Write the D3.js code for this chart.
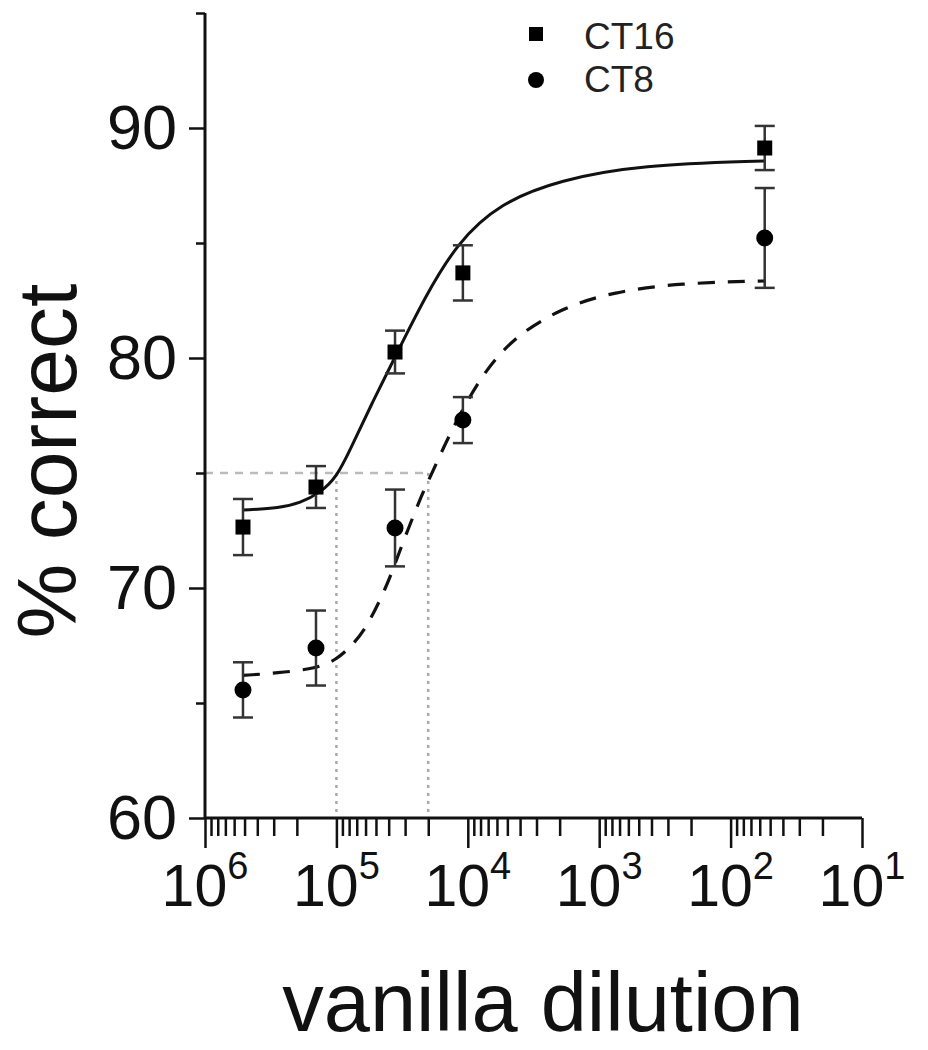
<!DOCTYPE html>
<html>
<head>
<meta charset="utf-8">
<script src="https://cdn.jsdelivr.net/npm/d3@7"></script>
<style>
  html, body { margin: 0; padding: 0; background: #fff; }
  svg { display: block; }
  text { font-family: "Liberation Sans", Arial, sans-serif; }
</style>
</head>
<body>
<svg id="chart" width="928" height="1050"></svg>
<script>
// ---------------- data ----------------
const dilutions   = [514000, 143000, 35800, 10900, 55];
const ct16Values  = [72.65, 74.39, 80.26, 83.70, 89.13];
const ct16Errors  = [1.22, 0.91, 0.93, 1.20, 0.96];
const ct8Values   = [65.57, 67.39, 72.61, 77.30, 85.22];
const ct8Errors   = [1.20, 1.63, 1.67, 1.00, 2.17];

// fitted curves as drawn
const ct16FitX = [514000, 268500, 189000, 133000, 98900, 78800, 53600, 35800, 21200, 12100, 5690, 1990, 489, 53.8];
const ct16FitY = [73.39, 73.48, 73.70, 74.13, 74.85, 76.0, 78.04, 80.04, 82.65, 85.0, 86.74, 87.74, 88.39, 88.57];
const ct8FitX  = [514000, 283000, 140600, 98900, 76000, 58500, 41200, 34600, 23100, 18700, 13650, 8070, 4530, 1890, 786, 243, 53.8];
const ct8FitY  = [66.2, 66.3, 66.5, 66.9, 67.5, 68.3, 70.1, 71.3, 73.9, 75.0, 76.74, 79.17, 80.9, 82.2, 82.87, 83.26, 83.35];

const threshold   = 75;
const thresholdX  = [100000, 20000];

const xTickExps   = [6, 5, 4, 3, 2, 1];
const yTicksMajor = [60, 70, 80, 90];
const yTicksMinor = [65, 75, 85, 95];
const legendNames = ["CT16", "CT8"];

// ---------------- scales ----------------
const svg = d3.select("#chart");
const x = d3.scaleLog().domain([1e6, 10]).range([205, 862]);
const y = d3.scaleLinear().domain([60, 95]).range([818, 13]);
const font = '"Liberation Sans", Arial, sans-serif';

// ---------------- reference lines ----------------
svg.append("line")
  .attr("x1", x(1e6)).attr("x2", x(thresholdX[1]))
  .attr("y1", y(threshold)).attr("y2", y(threshold))
  .attr("stroke", "#bbb").attr("stroke-width", 2.5).attr("stroke-dasharray", "8,7");
thresholdX.forEach(v => {
  svg.append("line")
    .attr("x1", x(v)).attr("x2", x(v))
    .attr("y1", y(threshold)).attr("y2", y(60))
    .attr("stroke", "#aaa").attr("stroke-width", 2.5).attr("stroke-dasharray", "3,5");
});

// ---------------- axes ----------------
const xAxisMajor = d3.axisBottom(x)
  .tickValues(xTickExps.map(e => Math.pow(10, e)))
  .tickSize(30).tickFormat("");
const minorX = [];
for (let e = 1; e < 6; e++) for (let m = 2; m <= 9; m++) minorX.push(m * Math.pow(10, e));
const xAxisMinor = d3.axisBottom(x).tickValues(minorX).tickSize(18).tickFormat("");

const gxMinor = svg.append("g").attr("transform", `translate(0,${y(60)})`).call(xAxisMinor);
const gx = svg.append("g").attr("transform", `translate(0,${y(60)})`).call(xAxisMajor);
[gx, gxMinor].forEach(g => {
  g.select(".domain").remove();
  g.selectAll(".tick line").attr("stroke", "#111").attr("stroke-width", 2.5);
});

const yAxisMajor = d3.axisLeft(y).tickValues(yTicksMajor).tickSize(16).tickPadding(12)
  .tickFormat(d3.format("d"));
const yAxisMinor = d3.axisLeft(y).tickValues(yTicksMinor).tickSize(9).tickFormat("");
const gyMinor = svg.append("g").attr("transform", `translate(${x(1e6)},0)`).call(yAxisMinor);
const gy = svg.append("g").attr("transform", `translate(${x(1e6)},0)`).call(yAxisMajor);
[gy, gyMinor].forEach(g => {
  g.select(".domain").remove();
  g.selectAll(".tick line").attr("stroke", "#111").attr("stroke-width", 2.5);
});
gy.selectAll(".tick text")
  .attr("font-family", font).attr("font-size", 63).attr("fill", "#111");

// axis lines
svg.append("line").attr("x1", x(1e6)).attr("x2", x(10)).attr("y1", y(60)).attr("y2", y(60))
  .attr("stroke", "#111").attr("stroke-width", 3);
svg.append("line").attr("x1", x(1e6)).attr("x2", x(1e6)).attr("y1", y(95)).attr("y2", y(60))
  .attr("stroke", "#111").attr("stroke-width", 3);

// x tick labels 10^n
xTickExps.forEach(e => {
  const t = svg.append("text")
    .attr("x", x(Math.pow(10, e))).attr("y", 906)
    .attr("text-anchor", "middle")
    .attr("font-family", font).attr("font-size", 59).attr("fill", "#111");
  t.append("tspan").text("10");
  t.append("tspan").attr("dy", -27).attr("font-size", 38).text(String(e));
});

// axis titles
svg.append("text").attr("x", 543).attr("y", 1031).attr("text-anchor", "middle")
  .attr("font-family", font).attr("font-size", 83).attr("fill", "#111")
  .text("vanilla dilution");
svg.append("text").attr("transform", "translate(76,461) rotate(-90)")
  .attr("text-anchor", "middle")
  .attr("font-family", font).attr("font-size", 84).attr("fill", "#111")
  .text("% correct");

// ---------------- fitted curves ----------------
const line = d3.line().x(d => x(d[0])).y(d => y(d[1])).curve(d3.curveBasis);
const ct16Fit = ct16FitX.map((v, i) => [v, ct16FitY[i]]).sort((a, b) => x(a[0]) - x(b[0]));
const ct8Fit  = ct8FitX.map((v, i) => [v, ct8FitY[i]]).sort((a, b) => x(a[0]) - x(b[0]));
svg.append("path").datum(ct16Fit).attr("d", line)
  .attr("fill", "none").attr("stroke", "#111").attr("stroke-width", 3);
svg.append("path").datum(ct8Fit).attr("d", line)
  .attr("fill", "none").attr("stroke", "#111").attr("stroke-width", 3.2)
  .attr("stroke-dasharray", "17,13");

// ---------------- error bars and markers ----------------
function drawSeries(vals, errs, shape) {
  const g = svg.append("g");
  vals.forEach((v, i) => {
    const cx = x(dilutions[i]);
    const y1 = y(v + errs[i]), y2 = y(v - errs[i]);
    g.append("line").attr("x1", cx).attr("x2", cx).attr("y1", y1).attr("y2", y2)
      .attr("stroke", "#333").attr("stroke-width", 2.5);
    [y1, y2].forEach(yy => g.append("line")
      .attr("x1", cx - 10).attr("x2", cx + 10).attr("y1", yy).attr("y2", yy)
      .attr("stroke", "#333").attr("stroke-width", 2.5));
    if (shape === "square") {
      g.append("rect").attr("x", cx - 7.5).attr("y", y(v) - 7.5)
        .attr("width", 15).attr("height", 15).attr("fill", "#000");
    } else {
      g.append("circle").attr("cx", cx).attr("cy", y(v)).attr("r", 8.5).attr("fill", "#000");
    }
  });
}
drawSeries(ct16Values, ct16Errors, "square");
drawSeries(ct8Values, ct8Errors, "circle");

// ---------------- legend ----------------
const legend = svg.append("g");
legend.append("rect").attr("x", 529).attr("y", 27).attr("width", 14).attr("height", 14).attr("fill", "#000");
legend.append("circle").attr("cx", 536).attr("cy", 80).attr("r", 8).attr("fill", "#000");
legendNames.forEach((n, i) => {
  legend.append("text").attr("x", 584).attr("y", i === 0 ? 49 : 92)
    .attr("font-family", font).attr("font-size", 37).attr("fill", "#222").text(n);
});
</script>
</body>
</html>
